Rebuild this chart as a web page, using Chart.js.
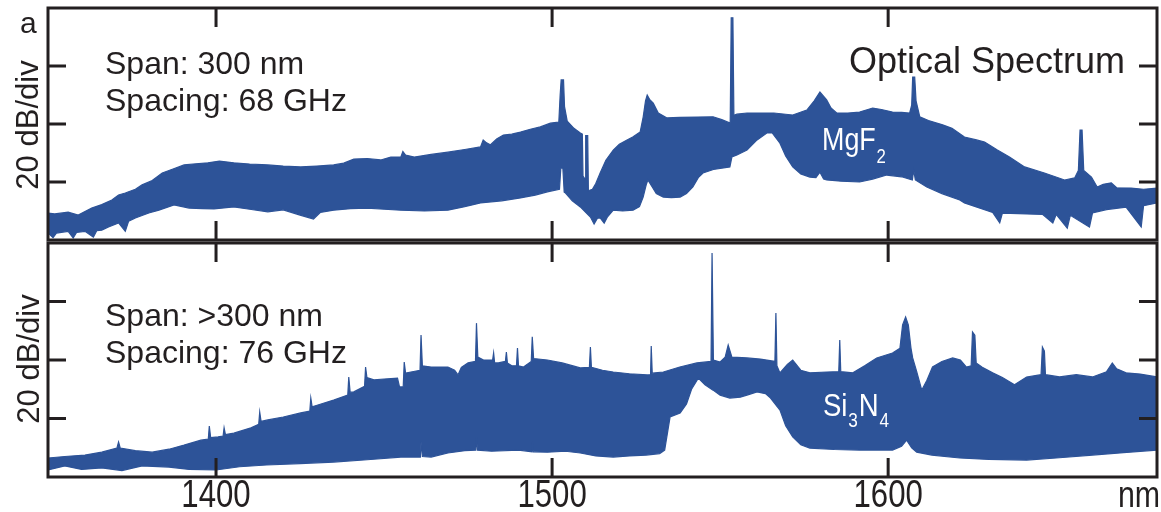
<!DOCTYPE html>
<html>
<head>
<meta charset="utf-8">
<script src="https://cdn.jsdelivr.net/npm/chart.js@4.4.1/dist/chart.umd.min.js"></script>
<style>
  html, body { margin: 0; padding: 0; background: #fff; }
  #wrap { position: relative; width: 1161px; height: 512px; overflow: hidden; }
  canvas { position: absolute; left: 0; }
  #topChart { top: 0; }
  #bottomChart { top: 240px; }
</style>
</head>
<body>
<div id="wrap">
  <canvas id="topChart" width="1161" height="245"></canvas>
  <canvas id="bottomChart" width="1161" height="272"></canvas>
</div>
<script>
// MgF2 comb, upper and lower envelope (wavelength nm / power dB)
const mgf2UpperNm = [1350, 1352, 1356, 1359, 1363, 1366, 1369, 1371, 1373, 1376, 1378, 1381, 1384, 1387, 1390.5, 1394, 1397.6, 1401, 1405.3, 1410, 1415.4, 1420, 1425.2, 1430, 1435, 1438, 1441, 1445, 1449, 1452, 1455, 1455.6, 1456.4, 1459, 1464, 1469, 1474, 1478.7, 1479.5, 1480.5, 1481.6, 1483.5, 1485.5, 1488, 1490.6, 1493.5, 1496.5, 1499.5, 1502, 1502.4, 1502.7, 1503.4, 1503.7, 1504.5, 1506.5, 1508.4, 1509, 1509.2, 1509.8, 1510, 1510.6, 1510.8, 1512, 1513, 1514.3, 1516, 1518.2, 1520, 1522.3, 1524, 1526.2, 1527.1, 1527.8, 1528.3, 1529, 1530.1, 1531.6, 1534.2, 1538, 1543.1, 1547.9, 1550.5, 1553, 1553.3, 1553.8, 1554.1, 1555, 1558, 1561.8, 1566, 1571.6, 1575.8, 1578, 1579.7, 1581.7, 1583, 1584.7, 1588, 1591.5, 1595.4, 1598, 1601.3, 1604, 1606.4, 1607, 1607.3, 1607.9, 1608.3, 1609.4, 1612, 1616.2, 1619, 1622.7, 1626.3, 1628.7, 1632.5, 1636.1, 1640.6, 1646.5, 1652.5, 1655.5, 1656.6, 1657.1, 1657.7, 1658.2, 1660.5, 1662.2, 1664, 1666.4, 1668, 1672.3, 1676, 1680];
const mgf2UpperDb = [9.3, 9.0, 9.6, 8.6, 11, 12.2, 13.8, 15.5, 16.2, 17.5, 19, 20.5, 23.1, 24.4, 25.9, 26.3, 26.6, 27.2, 26.6, 26.2, 25.9, 25.5, 25.2, 25.5, 25.9, 26.5, 27.9, 28.1, 27.6, 28.6, 28.6, 30.5, 29.3, 28.6, 29.5, 30.3, 31.2, 32.1, 34.5, 33.5, 32.8, 34.8, 36.2, 36.5, 37.2, 38.2, 39, 40.3, 40.7, 50, 55.2, 55.2, 46, 41, 38.5, 36.9, 36.5, 22, 21, 36, 36, 17, 17.5, 19.5, 23.1, 27.5, 31, 33, 34.5, 35.5, 37.2, 42.4, 48, 50, 48.5, 47.2, 43.8, 42.1, 42.3, 42.4, 42.5, 41.5, 40.3, 76.6, 76.6, 43, 43.4, 43.8, 43.8, 43.8, 43.1, 44.8, 48, 51, 48.3, 45.5, 43.8, 43.8, 44.1, 45.5, 45, 44.1, 44, 43.8, 46.5, 56.2, 56.2, 48, 42.5, 41.2, 39.7, 38.5, 35.5, 34.5, 33.8, 31, 28.6, 25.2, 23.1, 20.7, 21.4, 24, 37.9, 37.9, 24, 21.7, 18.3, 19.2, 19.7, 18, 17.9, 17.5, 17.9];
const mgf2LowerNm = [1350, 1351.5, 1352.5, 1356, 1357.5, 1358.5, 1361, 1363.5, 1364.5, 1366, 1368, 1371, 1373, 1374, 1376, 1380, 1383, 1387.5, 1392, 1396, 1399.4, 1405.3, 1410, 1415.4, 1420, 1425, 1429, 1431, 1435, 1440, 1445, 1450, 1455, 1462, 1469, 1474, 1478.7, 1485, 1490.6, 1495, 1498.6, 1502.2, 1502.6, 1503.2, 1503.6, 1504, 1506, 1508.4, 1510, 1511.4, 1512.5, 1513.5, 1514.3, 1515.5, 1516.5, 1518.2, 1521, 1524.1, 1526, 1527.1, 1528, 1528.5, 1529.8, 1531, 1533.1, 1535.5, 1538.1, 1540, 1541.9, 1543.5, 1544.9, 1548, 1552.9, 1553.5, 1555, 1558, 1561, 1563.9, 1565.5, 1567.8, 1569.5, 1571.6, 1574, 1576.7, 1578.5, 1579.7, 1580.8, 1581.7, 1586, 1591.5, 1595.4, 1599.6, 1604, 1607.2, 1607.6, 1608.1, 1611.5, 1616, 1621.3, 1622.7, 1626, 1631.1, 1633.2, 1634, 1641.2, 1646, 1649, 1650, 1653.3, 1654.2, 1659.9, 1660.8, 1665, 1670.8, 1675.3, 1676, 1680];
const mgf2LowerDb = [2.4, 0.8, 2.4, 3.0, 0.7, 2.6, 3.0, 1.0, 3.2, 3.4, 4.5, 5.9, 3.0, 6.5, 7.6, 9.3, 10.3, 12.1, 11, 10.8, 10.7, 11.4, 10.6, 9.7, 10.4, 8.6, 7.2, 9.5, 10.3, 10.8, 11, 10.6, 10.3, 10.0, 10.3, 11.5, 12.8, 13.5, 14.5, 15.5, 16.6, 17.5, 24.8, 24.8, 16.5, 16.2, 13.5, 11.4, 9.5, 7.9, 5.5, 7.5, 7.6, 5.8, 8, 10.3, 10, 10.3, 11.5, 14.8, 19, 20.7, 18.3, 16, 14.8, 14.6, 14.8, 16, 18.3, 21.5, 23.1, 24.3, 25.2, 28.6, 29.3, 31, 34.5, 36.9, 36.9, 33.4, 29, 25.2, 22.8, 21.7, 21.5, 23.4, 21, 20.7, 20.3, 20, 21, 22.4, 21.8, 20.7, 24.1, 20.7, 18.3, 16, 13.8, 12.8, 11.5, 9.5, 5.9, 9.3, 9.0, 8.8, 5.9, 8.8, 4.1, 8.5, 4.5, 9.3, 10.5, 11.3, 4.5, 11.8, 12.8];

// Si3N4 comb, upper and lower envelope
const si3n4UpperNm = [1350, 1355, 1361, 1366, 1370.5, 1371, 1371.5, 1376, 1381, 1386, 1390.5, 1395.5, 1397.7, 1398, 1398.4, 1400.6, 1402.1, 1402.4, 1402.8, 1405.3, 1410.4, 1412.7, 1413, 1413.4, 1415.4, 1420, 1425.2, 1427.9, 1428.2, 1428.6, 1430.3, 1435, 1439.2, 1439.5, 1439.9, 1441, 1444.2, 1444.5, 1444.9, 1447, 1450, 1454, 1454.6, 1455.7, 1456, 1456.4, 1458, 1460.7, 1461, 1461.4, 1464, 1469, 1471, 1472, 1473, 1475, 1477.2, 1477.5, 1477.9, 1479.6, 1482.3, 1482.6, 1482.9, 1484, 1486.1, 1486.4, 1486.7, 1488, 1489.4, 1489.7, 1490, 1491.5, 1493.8, 1494.1, 1494.5, 1498.6, 1503, 1508.4, 1511.1, 1511.4, 1511.7, 1515, 1518.2, 1523, 1528.3, 1529.3, 1529.5, 1529.8, 1533.1, 1538, 1543.1, 1547.3, 1547.6, 1548, 1550, 1551.5, 1552.4, 1553.5, 1558, 1562, 1566.3, 1566.6, 1566.9, 1567.8, 1570, 1571.6, 1574, 1576.7, 1581.7, 1585.3, 1585.6, 1585.9, 1589.5, 1593, 1596.6, 1601.3, 1603.5, 1604.3, 1605.2, 1606, 1606.8, 1607.3, 1608.5, 1610, 1611.5, 1613.2, 1616, 1619.2, 1621.5, 1623.3, 1624.7, 1625.1, 1625.8, 1626.2, 1628, 1631.1, 1634, 1637.6, 1641.2, 1645.5, 1645.9, 1646.5, 1646.8, 1651, 1656, 1660.8, 1665, 1666.7, 1668, 1670.8, 1675, 1680];
const si3n4UpperDb = [6.5, 7.0, 7.5, 8.5, 9.9, 12, 9.9, 9.0, 8.5, 9.5, 10.9, 12.6, 13, 17.4, 13.5, 13.7, 14, 16.8, 14.5, 15, 16.8, 18, 22.2, 19, 19.5, 20.5, 21.9, 22.5, 27, 24, 24.6, 26.3, 28, 34.2, 29, 29.1, 31, 37.6, 34, 33.2, 33.5, 33.8, 30.8, 30.8, 39.3, 35.5, 35.9, 36.5, 48.5, 38, 37.6, 37.6, 36.5, 34.9, 37.5, 39, 39.5, 52.6, 41, 40, 40, 42.4, 39, 39, 39.5, 42.7, 39, 38, 38, 44.1, 38, 37.6, 39.5, 47.9, 40.5, 40, 39, 37.3, 37.5, 44.4, 37.5, 36.5, 35.9, 35.3, 34.9, 35, 44.8, 35.5, 35.9, 37.6, 39, 39.5, 76.6, 40, 39.3, 41, 45.1, 41, 40.7, 40.3, 39.5, 56.1, 38, 35.6, 38.5, 40, 36.5, 35.6, 35.9, 36, 46.8, 36, 35.6, 38, 40.7, 42.4, 44, 52, 54.7, 52, 44, 40.7, 36, 29.7, 33, 37.6, 39.5, 40.7, 40, 37.6, 38, 49.6, 48.5, 39, 37.5, 35.6, 34, 31.5, 34.2, 35, 44.4, 43, 35, 34.2, 35, 34.2, 36, 39, 37, 35.6, 35.2, 34.2];
const si3n4LowerNm = [1350, 1355, 1360, 1366, 1372, 1378, 1386, 1392, 1400, 1407, 1415, 1425, 1435, 1445, 1455, 1460.8, 1461, 1461.4, 1464, 1469, 1474, 1477.3, 1477.5, 1477.8, 1482, 1490, 1494, 1494.1, 1494.4, 1498.6, 1504, 1508.4, 1513, 1518.2, 1523, 1528, 1532, 1533.5, 1535.1, 1538.1, 1540, 1541.5, 1543.5, 1545.5, 1547.9, 1550, 1552.9, 1556, 1558, 1561, 1563.5, 1565, 1567.8, 1569.5, 1571.6, 1574, 1576.7, 1584, 1591.5, 1601.3, 1604, 1605.5, 1607, 1608.5, 1613, 1621.3, 1630, 1641.2, 1650, 1660.8, 1670, 1680];
const si3n4LowerDb = [2.4, 3.8, 2.6, 3.1, 2.2, 3.8, 3.4, 2.6, 2.4, 3.5, 4.1, 4.6, 5.1, 5.9, 6.8, 6.8, 12, 7, 6.8, 8.2, 9.0, 9.2, 13.7, 9.2, 8.8, 9.2, 8.6, 12, 8.6, 8.5, 8.8, 8.2, 7.2, 6.8, 7.2, 7.5, 8.0, 9.2, 20.5, 21.9, 25, 30, 33.8, 31.5, 29.7, 28, 27, 27.3, 28, 29.1, 28.5, 27, 22.9, 17.5, 13.7, 11, 9.9, 9.4, 9.2, 9.2, 10.5, 12.6, 10, 8.5, 7.5, 6.5, 6.0, 5.8, 6.5, 7.5, 8.3, 9.2];

const xTicks = [1400, 1500, 1600];
const xTickLabels = ['1400', '1500', '1600'];
const yTicks = [20, 40, 60];

const blue = '#2d5398';
const ink = '#231f20';
const sans = '"Liberation Sans", Arial, sans-serif';

function pts(xs, ys) {
  return xs.map((x, i) => ({ x: x, y: ys[i] }));
}

// condensed text: the original uses a narrow face that is not installed
function narrowText(ctx, text, x, y, size, squeeze) {
  ctx.save();
  ctx.translate(x, y);
  ctx.scale(squeeze, 1);
  ctx.font = size + 'px ' + sans;
  ctx.fillText(text, 0, 0);
  ctx.restore();
}

function chem(ctx, parts, x, y, size, subSize, subDrop, squeeze) {
  ctx.save();
  ctx.translate(x, y);
  ctx.scale(squeeze, 1);
  let cx = 0;
  parts.forEach(([t, sub]) => {
    ctx.font = (sub ? subSize : size) + 'px ' + sans;
    ctx.fillText(t, cx, sub ? subDrop : 0);
    cx += ctx.measureText(t).width + 1;
  });
  ctx.restore();
}

function ylabel(ctx, cx, cy) {
  ctx.save();
  ctx.translate(cx, cy);
  ctx.rotate(-Math.PI / 2);
  ctx.font = '31px ' + sans;
  ctx.textAlign = 'center';
  ctx.fillText('20 dB/div', 0, 0);
  ctx.restore();
}

// box, inward ticks on all four sides
const frame = {
  id: 'frame',
  afterDatasetsDraw(chart, args, opts) {
    const { ctx, chartArea: a, scales: { x, y } } = chart;
    ctx.save();
    ctx.strokeStyle = ink;
    ctx.lineWidth = 3;
    ctx.beginPath();
    xTicks.forEach(t => {
      const px = x.getPixelForValue(t);
      ctx.moveTo(px, a.top); ctx.lineTo(px, a.top + 19);
      ctx.moveTo(px, a.bottom); ctx.lineTo(px, a.bottom - 19);
    });
    yTicks.forEach(t => {
      const py = y.getPixelForValue(t);
      ctx.moveTo(a.left, py); ctx.lineTo(a.left + 18, py);
      ctx.moveTo(a.right, py); ctx.lineTo(a.right - 18, py);
    });
    ctx.stroke();
    ctx.strokeRect(a.left, a.top, a.right - a.left, a.bottom - a.top);
    ctx.restore();
    if (opts.draw) opts.draw(chart);
  }
};

// upper envelope filled blue down to the axis, lower envelope then
// clears white below itself, leaving the comb band
function panel(id, upper, lower, padding, draw) {
  return new Chart(document.getElementById(id), {
    type: 'line',
    data: {
      datasets: [
        { data: lower, borderColor: blue, borderWidth: 1.2, pointRadius: 0, fill: 'origin', backgroundColor: '#fff' },
        { data: upper, borderColor: blue, borderWidth: 1.2, pointRadius: 0, fill: 'origin', backgroundColor: blue }
      ]
    },
    options: {
      responsive: false,
      animation: false,
      events: [],
      layout: { padding: padding },
      scales: {
        x: { type: 'linear', min: 1350, max: 1680, display: false },
        y: { min: 0, max: 80, display: false }
      },
      plugins: { legend: { display: false }, tooltip: { enabled: false }, frame: { draw: draw } }
    },
    plugins: [frame]
  });
}

panel('topChart', pts(mgf2UpperNm, mgf2UpperDb), pts(mgf2LowerNm, mgf2LowerDb),
  { left: 48, right: 4, top: 8, bottom: 5 },
  chart => {
    const ctx = chart.ctx;
    ctx.save();
    ctx.fillStyle = ink;
    ctx.textBaseline = 'alphabetic';
    ctx.font = '30px ' + sans;
    ctx.fillText('a', 20, 33);
    ylabel(ctx, 38, 125);
    ctx.font = '32px ' + sans;
    ctx.fillText('Span: 300 nm', 105, 74);
    ctx.fillText('Spacing: 68 GHz', 105, 111);
    ctx.font = '36px ' + sans;
    ctx.textAlign = 'right';
    ctx.fillText('Optical Spectrum', 1125, 73);
    ctx.textAlign = 'left';
    ctx.fillStyle = '#fff';
    chem(ctx, [['MgF', false], ['2', true]], 822, 150, 32, 20, 13, 0.84);
    ctx.restore();
  });

panel('bottomChart', pts(si3n4UpperNm, si3n4UpperDb), pts(si3n4LowerNm, si3n4LowerDb),
  { left: 48, right: 4, top: 3, bottom: 35 },
  chart => {
    const ctx = chart.ctx;
    const x = chart.scales.x;
    ctx.save();
    ctx.fillStyle = ink;
    ylabel(ctx, 39, 119);
    ctx.font = '32px ' + sans;
    ctx.fillText('Span: >300 nm', 105, 86);
    ctx.fillText('Spacing: 76 GHz', 105, 123);
    ctx.textAlign = 'center';
    xTicks.forEach((t, i) => narrowText(ctx, xTickLabels[i], x.getPixelForValue(t), 267, 38, 0.82));
    ctx.textAlign = 'left';
    narrowText(ctx, 'nm', 1118, 267, 37, 0.82);
    ctx.fillStyle = '#fff';
    chem(ctx, [['Si', false], ['3', true], ['N', false], ['4', true]], 823, 176, 32, 20, 11, 0.86);
    ctx.restore();
  });
</script>
</body>
</html>
